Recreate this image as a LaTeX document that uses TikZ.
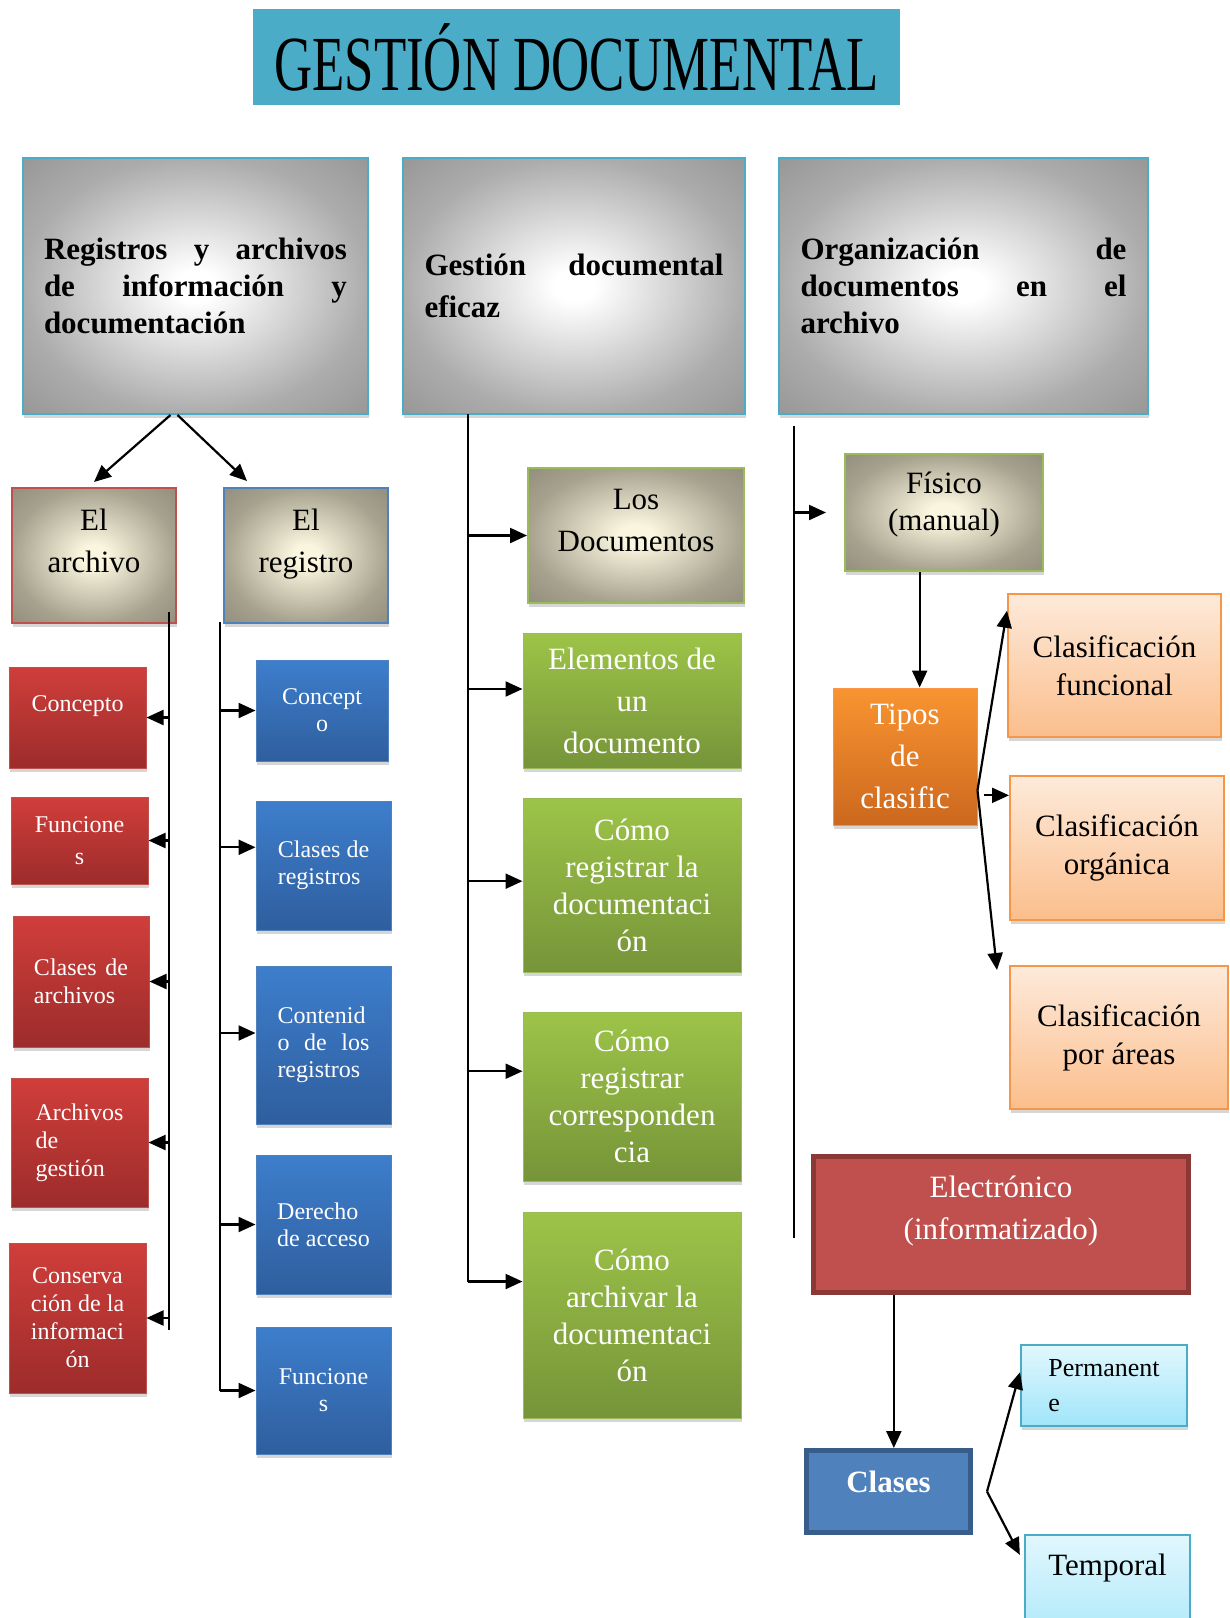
\documentclass[tikz,border=0pt]{standalone}
\usepackage{fontspec}
\setmainfont{Liberation Serif}
\usetikzlibrary{arrows.meta,shadows}

\definecolor{titleblue}{RGB}{74,172,198}
\definecolor{frameblue}{RGB}{75,172,198}
\definecolor{redtop}{RGB}{208,62,58}
\definecolor{redbot}{RGB}{156,44,43}
\definecolor{redline}{RGB}{192,80,77}
\definecolor{bluetop}{RGB}{61,126,204}
\definecolor{bluebot}{RGB}{47,94,158}
\definecolor{blueline}{RGB}{79,129,189}
\definecolor{greentop}{RGB}{157,196,72}
\definecolor{greenbot}{RGB}{118,148,57}
\definecolor{greenline}{RGB}{155,187,89}
\definecolor{orgtop}{RGB}{249,148,49}
\definecolor{orgbot}{RGB}{204,104,30}
\definecolor{orgline}{RGB}{247,150,70}
\definecolor{peachtop}{RGB}{253,234,218}
\definecolor{peachbot}{RGB}{251,190,140}
\definecolor{skytop}{RGB}{225,247,253}
\definecolor{skybot}{RGB}{160,229,250}
\definecolor{elecfill}{RGB}{192,80,77}
\definecolor{elecline}{RGB}{140,56,54}
\definecolor{clasfill}{RGB}{79,129,189}
\definecolor{clasline}{RGB}{56,93,138}
\definecolor{greyedge}{RGB}{172,172,172}
\definecolor{greycorner}{RGB}{150,150,150}
\definecolor{khakimid}{RGB}{250,245,222}
\definecolor{khakiedge}{RGB}{166,162,142}
\definecolor{khakicorner}{RGB}{146,142,124}

\pgfdeclareradialshading{greyglow}{\pgfpoint{0bp}{0bp}}{color(0bp)=(white); color(3bp)=(white); color(25bp)=(greyedge); color(36bp)=(greycorner); color(50bp)=(greycorner)}
\pgfdeclareradialshading{khakiglow}{\pgfpoint{0bp}{0bp}}{color(0bp)=(khakimid); color(4bp)=(khakimid); color(25bp)=(khakiedge); color(36bp)=(khakicorner); color(50bp)=(khakicorner)}

\begin{document}
\begin{tikzpicture}[x=1pt,y=-1pt,
  every node/.style={inner sep=2pt},
  sz/.style 2 args={minimum width=#1pt,minimum height=#2pt},
  shadowed/.style={drop shadow={shadow xshift=1pt,shadow yshift=-4pt,fill=black!45,opacity=0.35}},
  headbox/.style={shade,shading=greyglow,draw=frameblue,line width=2pt,shadowed,align=left,font=\fontsize{31}{37}\selectfont\bfseries},
  khakibox/.style={shade,shading=khakiglow,line width=2pt,shadowed,align=center,font=\fontsize{31}{42}\selectfont},
  redbox/.style={top color=redtop,bottom color=redbot,draw=redline,line width=1pt,shadowed,text=white,align=center,font=\fontsize{24}{28}\selectfont},
  bluebox/.style={top color=bluetop,bottom color=bluebot,draw=blueline,line width=1pt,shadowed,text=white,align=center,font=\fontsize{24}{27}\selectfont},
  greenbox/.style={top color=greentop,bottom color=greenbot,draw=greenline,line width=1pt,shadowed,text=white,align=center,font=\fontsize{31}{37}\selectfont},
  tipbox/.style={top color=orgtop,bottom color=orgbot,draw=orgline,line width=1pt,shadowed,text=white,align=center,font=\fontsize{31}{42}\selectfont},
  peachbox/.style={top color=peachtop,bottom color=peachbot,draw=orgline,line width=2pt,shadowed,align=center,font=\fontsize{31}{38}\selectfont},
  skybox/.style={top color=skytop,bottom color=skybot,draw=frameblue,line width=2pt,shadowed,align=center,font=\fontsize{31}{37}\selectfont},
  spine/.style={line width=2.2pt},
  arr/.style={line width=2.2pt,-{Triangle[length=17pt,width=15pt]}}]
\useasboundingbox (0,0) rectangle (1230,1618);
\clip (0,0) rectangle (1230,1618);
\fill[white] (0,0) rectangle (1230,1618);

% title banner
\node[fill=titleblue,sz={647}{96}] (title) at (576.5,57)
  {\scalebox{0.88}[1.3]{\fontsize{60}{60}\selectfont GESTIÓN DOCUMENTAL}};

% three main topics
\node[headbox,sz={345}{256}] (regs) at (195.5,286)
  {\makebox[303pt][s]{Registros y archivos}\\\makebox[303pt][s]{de información y}\\documentación};
\node[headbox,sz={342}{256},font=\fontsize{31}{42}\selectfont\bfseries] (gest) at (574,286)
  {\makebox[299pt][s]{Gestión documental}\\eficaz};
\node[headbox,sz={369}{256}] (orga) at (963.5,286)
  {\makebox[326pt][s]{Organización de}\\\makebox[326pt][s]{documentos en el}\\archivo};

% first column: archivo and registro
\node[khakibox,draw=redline,sz={164}{135},text depth=30pt] (archivo) at (94,555.5) {El\\archivo};
\node[khakibox,draw=blueline,sz={164}{135},text depth=30pt] (registro) at (306,555.5) {El\\registro};
\draw[arr] ([xshift=-25pt]regs.south) -- ([yshift=5pt]archivo.north);
\draw[arr] ([xshift=-18pt]regs.south) -- ([xshift=24pt,yshift=6pt]registro.north west);

\node[redbox,sz={137}{101},text depth=28pt] (concR) at (77.5,717.5) {Concepto};
\node[redbox,sz={137}{87},font=\fontsize{24}{32}\selectfont] (funcR) at (79.5,840.5) {Funcione\\s};
\node[redbox,sz={136}{131},align=left] (clasR) at (81,981.5) {\makebox[94pt][s]{Clases de}\\archivos};
\node[redbox,sz={137}{129},align=left] (archR) at (79.5,1142.5) {Archivos\\de\\gestión};
\node[redbox,sz={137}{150}] (consR) at (77.5,1318) {Conserva\\ción de la\\informaci\\ón};

\node[bluebox,sz={132}{101}] (concB) at (322,710.5) {Concept\\o};
\node[bluebox,sz={135}{129},align=left] (clasB) at (323.5,865.5) {Clases de\\registros};
\node[bluebox,sz={135}{158},align=left] (contB) at (323.5,1045) {Contenid\\\makebox[92pt][s]{o de los}\\registros};
\node[bluebox,sz={135}{139},align=left] (derB) at (323.5,1224.5) {Derecho\\de acceso};
\node[bluebox,sz={135}{127}] (funcB) at (323.5,1390.5) {Funcione\\s};

\coordinate (sa1) at (169,612);
\coordinate (sa2) at (169,1330);
\draw[spine] (sa1) -- (sa2);
\foreach \n in {concR,funcR,clasR,archR,consR}
  \draw[arr] (sa1 |- \n.east) -- (\n.east);

\coordinate (sb1) at (220,622);
\draw[spine] (sb1) -- (sb1 |- funcB.west);
\foreach \n/\a in {concB/180,clasB/165,contB/170,derB/180,funcB/180}
  \draw[arr] (sb1 |- \n.\a) -- (\n.\a);

% middle column
\node[khakibox,draw=greenline,sz={216}{135},text depth=30pt] (docs) at (636,535.5) {Los\\Documentos};
\node[greenbox,sz={218}{135},font=\fontsize{31}{42}\selectfont] (elem) at (632,700.5) {Elementos de\\un\\documento};
\node[greenbox,sz={218}{174}] (regd) at (632,885) {Cómo\\registrar la\\documentaci\\ón};
\node[greenbox,sz={218}{169}] (corr) at (632,1096.5) {Cómo\\registrar\\corresponden\\cia};
\node[greenbox,sz={218}{206}] (arch) at (632,1315) {Cómo\\archivar la\\documentaci\\ón};

\coordinate (sm1) at (468,414);
\draw[spine] (sm1) -- (sm1 |- arch.163);
\foreach \n/\a in {docs/180,elem/174,regd/178,corr/167,arch/163}
  \draw[arr] (sm1 |- \n.\a) -- (\n.\a);

% right column: physical and electronic
\node[khakibox,draw=greenline,sz={198}{117},font=\fontsize{31}{37}\selectfont,text depth=23pt] (fis) at (944,512.5) {Físico\\(manual)};
\node[tipbox,sz={144}{137}] (tipos) at (905,756.5) {Tipos\\de\\clasific};
\node[peachbox,sz={213}{143}] (cfun) at (1114.5,665.5) {Clasificación\\funcional};
\node[peachbox,sz={214}{144}] (corg) at (1117,848) {Clasificación\\orgánica};
\node[peachbox,sz={218}{143}] (care) at (1119,1037.5) {Clasificación\\por áreas};

\node[fill=elecfill,draw=elecline,line width=5pt,sz={375}{136},text=white,align=center,
  font=\fontsize{31}{42}\selectfont,text depth=33pt] (elec) at (1001,1224.5) {Electrónico\\(informatizado)};
\node[fill=clasfill,draw=clasline,line width=5pt,sz={164}{82},text=white,
  font=\fontsize{31}{37}\selectfont\bfseries,text depth=20pt] (clas) at (888.5,1491.5) {Clases};
\node[skybox,sz={166}{81},align=left,font=\fontsize{26}{35}\selectfont] (perm) at (1104,1385.5) {Permanent\\e};
\node[skybox,sz={165}{130},text depth=71pt] (temp) at (1107.5,1600) {Temporal};

\coordinate (sr1) at (794,426);
\coordinate (sr2) at (794,1238);
\draw[spine] (sr1) -- (sr2);
\draw[arr,shorten >=18pt] (sr1 |- fis.west) -- (fis.west);
\draw[arr] (fis.south -| tipos.78) -- (tipos.78);
\draw[arr] (tipos.-25) -- (cfun.153);
\draw[arr,shorten <=6pt] (tipos.east |- corg.154) -- (corg.154);
\draw[arr] (tipos.-25) -- ([xshift=-12pt,yshift=-5pt]care.north west);
\draw[arr] (elec.south -| clas.83) -- (clas.83);
\coordinate (fk) at ([xshift=14pt]clas.east);
\draw[arr] (fk) -- (perm.171);
\draw[arr,shorten >=9pt] (fk) -- (temp.156);
\end{tikzpicture}
\end{document}
